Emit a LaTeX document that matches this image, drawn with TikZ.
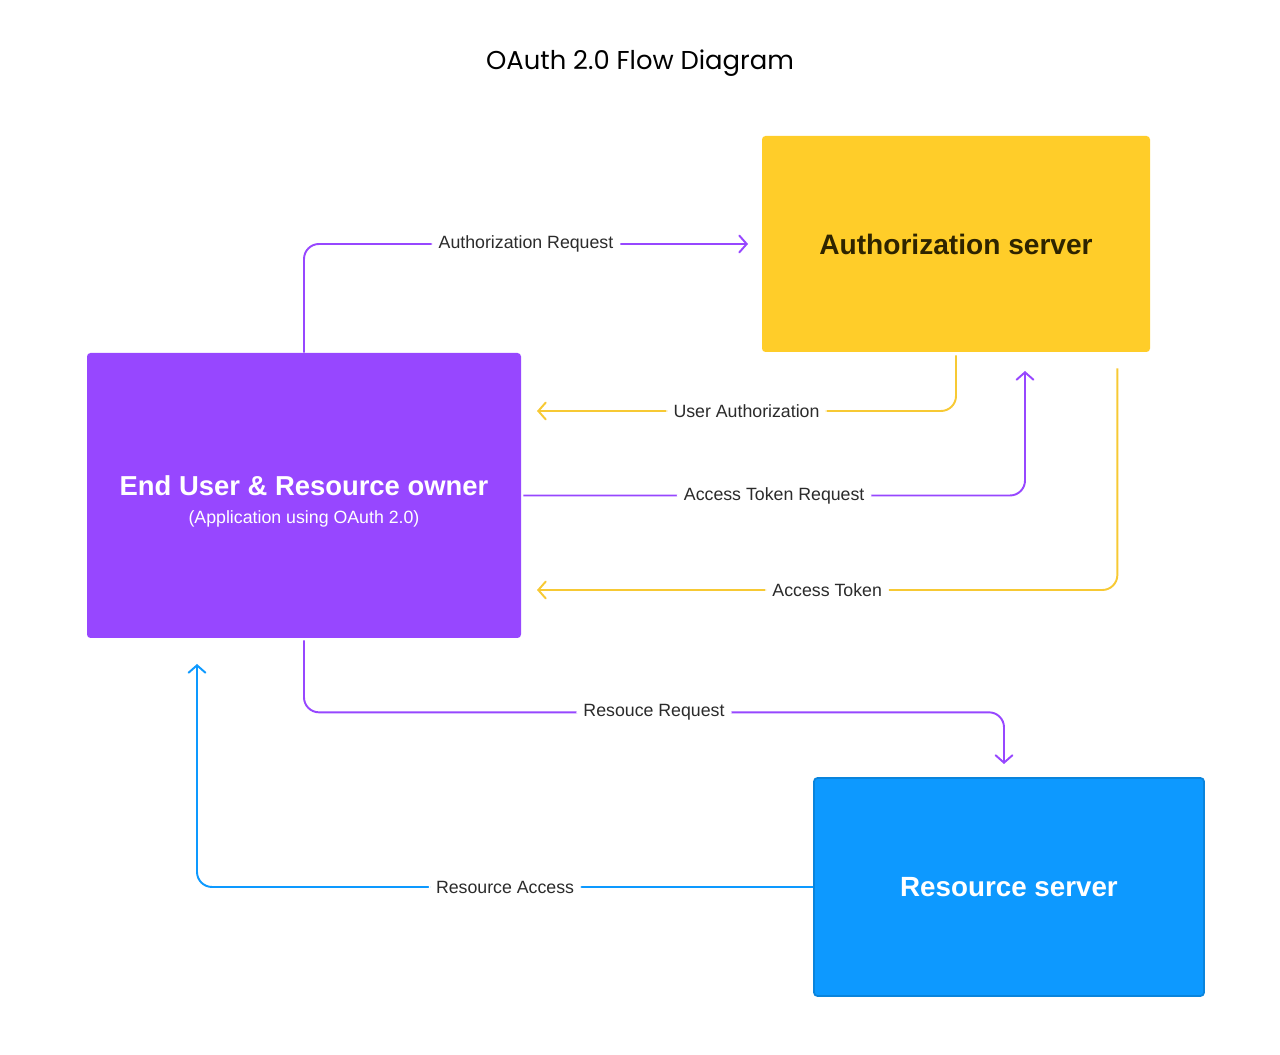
\documentclass[tikz,border=0pt]{standalone}
\usepackage{fontspec}
\setmainfont{Liberation Sans}
\newfontfamily\titlefont{Poppins}
\usetikzlibrary{arrows.meta}

\definecolor{oaPurple}{HTML}{9747FF}
\definecolor{oaYellow}{HTML}{FFCD29}
\definecolor{oaYellowLine}{HTML}{F7C934}
\definecolor{oaBlue}{HTML}{0D99FF}
\definecolor{oaBlueEdge}{HTML}{0A84DC}
\definecolor{oaDark}{HTML}{2E2400}
\definecolor{oaGray}{HTML}{2B2B2B}

\tikzset{
    box/.style={rectangle, rounded corners=2pt, align=center, inner sep=0pt},
    flow/.style={line width=1.1pt, rounded corners=0.3cm, -{Straight Barb[length=1.5mm,width=3.4mm,line cap=round]}},
    lbl/.style={fill=white, text=oaGray, font=\fontsize{10.1}{12}\selectfont, inner xsep=4pt, inner ysep=2pt}
}

\begin{document}
\begin{tikzpicture}
    \useasboundingbox (0,0) rectangle (25.6,21.1);

    % Title
    \node (title) at (12.8,19.84) {\titlefont\fontsize{14.7}{17}\selectfont OAuth 2.0 Flow Diagram};

    % Boxes
    \node[box, fill=oaYellow, minimum width=7.76cm, minimum height=4.32cm,
          text=oaDark, font=\bfseries\fontsize{16}{19}\selectfont] (auth) at (19.12,16.22) {Authorization server};
    \node[box, fill=oaPurple, minimum width=8.68cm, minimum height=5.7cm, text=white] (user) at (6.08,11.19)
        {\rule{0pt}{0.62cm}{\bfseries\fontsize{15.6}{18}\selectfont End User \& Resource owner}\\[4pt]
         {\fontsize{10.1}{12}\selectfont (Application using OAuth 2.0)}};
    \node[box, fill=oaBlue, draw=oaBlueEdge, line width=1pt, minimum width=7.8cm, minimum height=4.36cm,
          text=white, font=\bfseries\fontsize{15.8}{19}\selectfont] (res) at (20.18,3.36) {Resource server};

    % Arrow ends
    \coordinate (authIn)  at (14.96,16.22);
    \coordinate (userIn1) at (10.74,12.88);
    \coordinate (authIn2) at (20.5,13.68);
    \coordinate (userIn2) at (10.74,9.3);
    \coordinate (rrTurn)  at ([yshift=-1.48cm]user.south);
    \coordinate (resIn)   at (20.08,5.82);
    \coordinate (userIn3) at (3.94,7.82);

    % Authorization Request
    \draw[flow, oaPurple] (user.north) |- node[lbl, pos=0.75] {Authorization Request} (authIn);

    % User Authorization
    \draw[flow, oaYellowLine] ([yshift=-0.06cm]auth.south) |- node[lbl, pos=0.75] {User Authorization} (userIn1);

    % Access Token Request
    \draw[flow, oaPurple] ([xshift=0.04cm]user.east) -| node[lbl, pos=0.25] {Access Token Request} (authIn2);

    % Access Token
    \draw[flow, oaYellowLine] ([xshift=-0.66cm,yshift=-0.32cm]auth.south east) |- node[lbl, pos=0.75] {Access Token} (userIn2);

    % Resouce Request
    \draw[flow, oaPurple] ([yshift=-0.04cm]user.south) -- (rrTurn) -| node[lbl, pos=0.25] {Resouce Request} (resIn);

    % Resource Access
    \draw[flow, oaBlue] (res.west) -| node[lbl, pos=0.25] {Resource Access} (userIn3);
\end{tikzpicture}
\end{document}
